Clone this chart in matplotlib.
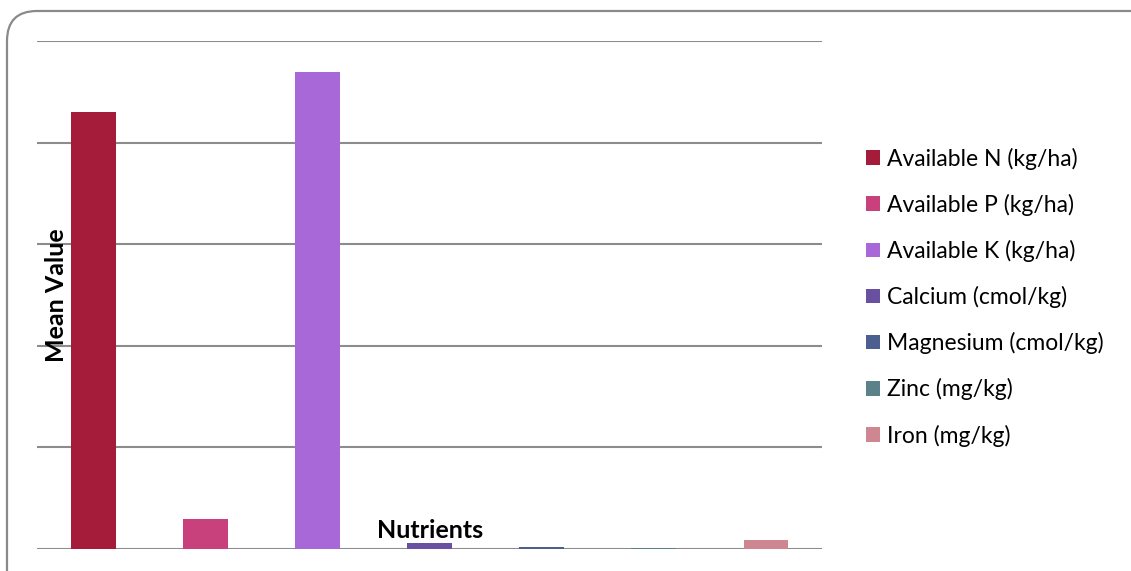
import matplotlib.pyplot as plt
from matplotlib.patches import FancyBboxPatch
from matplotlib.transforms import IdentityTransform
import numpy as np

plt.rcParams['font.family'] = ['Lato', 'DejaVu Sans']

nutrients = ['Available N (kg/ha)', 'Available P (kg/ha)', 'Available K (kg/ha)',
             'Calcium (cmol/kg)', 'Magnesium (cmol/kg)', 'Zinc (mg/kg)', 'Iron (mg/kg)']
mean_values = [430, 29.5, 469, 6, 2, 0.5, 9]
colors = ['#A51C3B', '#C8407C', '#A868D8', '#6A50A0', '#4C6090', '#5B8289', '#CE8690']

fig = plt.figure(figsize=(11.31, 5.71), dpi=100)
ax = fig.add_axes([37/1131, 1 - 549/571, 785/1131, 508/571])

x = np.arange(len(nutrients))
for i in range(len(nutrients)):
    ax.bar(x[i], mean_values[i], 0.4, color=colors[i], label=nutrients[i], zorder=3)

ax.set_xlim(-0.5, len(nutrients) - 0.5)
ax.set_ylim(0, 500)
ax.set_yticks(np.arange(0, 501, 100))
ax.yaxis.grid(True, color='#8c8c8c', linewidth=1.5, zorder=0)
ax.set_xticks([])
ax.tick_params(axis='y', length=0, labelleft=False)
for s in ax.spines.values():
    s.set_visible(False)

fig.text(56/1131, 1 - 295/571, 'Mean Value', rotation=90, fontsize=18,
         fontweight='bold', ha='center', va='center')
fig.text(430/1131, 1 - 538/571, 'Nutrients', fontsize=18,
         fontweight='bold', ha='center', va='baseline')

ax.legend(loc='center left', bbox_to_anchor=(857/1131, 1 - 297/571),
          bbox_transform=fig.transFigure, frameon=False, fontsize=16.5,
          handlelength=0.6, handleheight=0.6, handletextpad=0.3,
          labelspacing=1.05, borderaxespad=0)

border = FancyBboxPatch((7, -60), 1250, 571 - 11 + 60,
                        boxstyle='round,pad=0,rounding_size=30',
                        transform=IdentityTransform(), facecolor='none',
                        edgecolor='#8a8a8a', linewidth=1.6)
fig.patches.append(border)

fig.savefig('out.png', dpi=100)
